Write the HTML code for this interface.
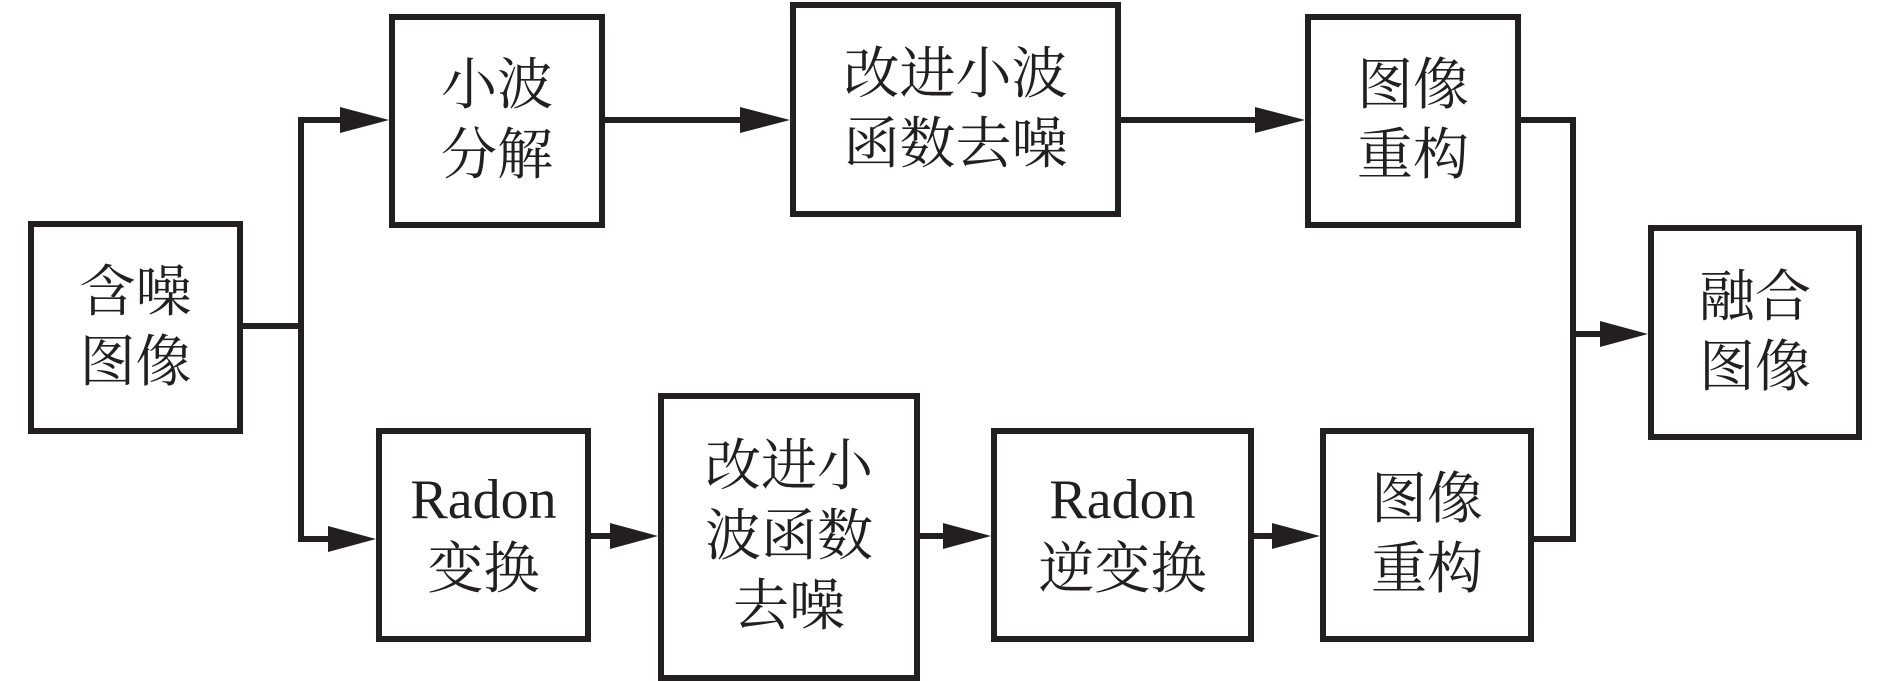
<!DOCTYPE html>
<html><head><meta charset="utf-8"><style>
body{margin:0;width:1890px;height:681px;background:#fff;position:relative;overflow:hidden}
.b{position:absolute;box-sizing:border-box;border:6px solid #231f20;display:flex;align-items:center;justify-content:center;text-align:center;font-family:"Liberation Serif","Noto Serif CJK SC",serif;font-size:56px;line-height:70px;color:#231f20}
svg{position:absolute;left:0;top:0}
</style></head><body>
<svg width="1890" height="681">
<g stroke="#231f20" stroke-width="6" fill="none">
<polyline points="243,326 301,326"/>
<polyline points="345,120 301,120 301,539 345,539"/>
<line x1="605" y1="120" x2="745" y2="120"/>
<line x1="1121" y1="120" x2="1260" y2="120"/>
<polyline points="1521,120 1573,120 1573,539 1534,539"/>
<line x1="1573" y1="334" x2="1605" y2="334"/>
<line x1="591" y1="536" x2="615" y2="536"/>
<line x1="920" y1="536" x2="948" y2="536"/>
<line x1="1254" y1="536" x2="1277" y2="536"/>
</g>
<g fill="#231f20">
<polygon points="340,107 389,120 340,133"/>
<polygon points="740,107 790,120 740,133"/>
<polygon points="1255,107 1305,120 1255,133"/>
<polygon points="1600,321 1648,334 1600,347"/>
<polygon points="328,526 376,539 328,552"/>
<polygon points="610,523 658,536 610,549"/>
<polygon points="943,523 991,536 943,549"/>
<polygon points="1272,523 1320,536 1272,549"/>
</g>
</svg>
<div class="b" style="left:28px;top:221px;width:215px;height:213px">含噪<br>图像</div>
<div class="b" style="left:389px;top:14px;width:216px;height:214px">小波<br>分解</div>
<div class="b" style="left:790px;top:2px;width:331px;height:215px">改进小波<br>函数去噪</div>
<div class="b" style="left:1305px;top:14px;width:216px;height:214px">图像<br>重构</div>
<div class="b" style="left:1648px;top:225px;width:214px;height:215px">融合<br>图像</div>
<div class="b" style="left:376px;top:428px;width:215px;height:214px">Radon<br>变换</div>
<div class="b" style="left:658px;top:393px;width:262px;height:288px">改进小<br>波函数<br>去噪</div>
<div class="b" style="left:991px;top:428px;width:263px;height:214px">Radon<br>逆变换</div>
<div class="b" style="left:1320px;top:428px;width:214px;height:214px">图像<br>重构</div>
</body></html>
